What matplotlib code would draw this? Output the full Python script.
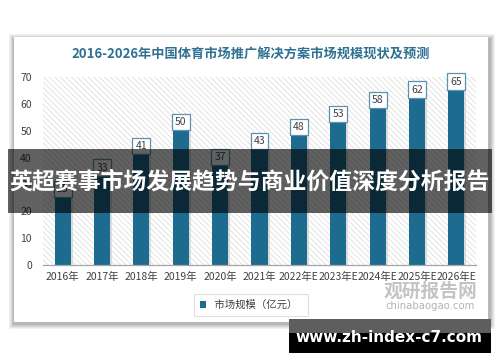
import matplotlib
matplotlib.use("Agg")
from matplotlib import pyplot as plt
from matplotlib.patches import Rectangle, Arc

plt.rcParams['font.family'] = ['Noto Sans CJK SC', 'DejaVu Sans']
plt.rcParams['hatch.linewidth'] = 0.6
plt.rcParams['hatch.color'] = '#dedede'

years = ["2016年", "2017年", "2018年", "2019年", "2020年", "2021年",
         "2022年E", "2023年E", "2024年E", "2025年E", "2026年E"]
values = [25, 33, 41, 50, 37, 43, 48, 53, 58, 62, 65]
title = "2016-2026年中国体育市场推广解决方案市场规模现状及预测"
series_name = "市场规模（亿元）"
banner = "英超赛事市场发展趋势与商业价值深度分析报告"
site = "www.zh-index-c7.com"

W, H = 500, 362
BAR = "#1d6b8f"

fig = plt.figure(figsize=(W / 100, H / 100), dpi=100)
fig.patch.set_facecolor("white")


def fx(px):
    return px / W


def fy(py):
    return 1 - py / H


def frect(x0, y0, x1, y1, **kw):
    # rectangle in pixel coords (top-left origin)
    r = Rectangle((fx(x0), fy(y1)), fx(x1) - fx(x0), fy(y0) - fy(y1),
                  transform=fig.transFigure, **kw)
    fig.add_artist(r)
    return r


# card shadow + card
for i, a in enumerate([0.05, 0.05, 0.06, 0.07, 0.08]):
    d = 5 - i
    frect(14 - d, 37 - d + 2, 488 + d + 2, 322 + d + 2, facecolor="black",
          edgecolor="none", alpha=a, zorder=0)
frect(14, 37, 488, 322, facecolor="white", edgecolor="none", zorder=0.5)

ax = fig.add_axes([fx(43), fy(265), fx(476) - fx(43), fy(77) - fy(265)])
ax.set_zorder(1)
ax.patch.set_facecolor("white")
ax.add_patch(Rectangle((0, 0), 1, 1, transform=ax.transAxes, facecolor="white",
                       edgecolor="#dedede", hatch="\\\\\\\\\\\\", lw=0, zorder=0))

x = list(range(len(years)))
# subtle bar shadow
ax.bar([i + 0.05 for i in x], values, width=0.41, color="#c9c9c9", alpha=0.6,
       zorder=1.5)
bars = ax.bar(x, values, width=0.41, color=BAR, zorder=2, label=series_name)

for i, v in zip(x, values):
    ax.text(i, v + 3.3, str(v), ha="center", va="center", fontsize=7.5,
            color="#404040", zorder=3,
            bbox=dict(boxstyle="square,pad=0.3", facecolor="white",
                      edgecolor="#5a93b0", lw=0.9))

ax.set_xlim(-0.5, len(years) - 0.5)
ax.set_ylim(0, 70)
ax.set_yticks(range(0, 71, 10))
ax.set_xticks(x)
ax.set_xticklabels(years)
ax.tick_params(axis="both", length=0, labelsize=7.5, labelcolor="#404040")
ax.tick_params(axis="y", pad=8)
ax.tick_params(axis="x", pad=5)
for s in ["top", "right", "left"]:
    ax.spines[s].set_visible(False)
ax.spines["bottom"].set_color("#a6a6a6")
ax.spines["bottom"].set_linewidth(0.9)
ax.spines["bottom"].set_zorder(3)

fig.text(fx(251), fy(54), title, ha="center", va="center", fontsize=9.5,
         fontweight="bold", color="#2f7193")

leg = ax.legend(loc="center", bbox_to_anchor=(fx(251), fy(305)),
                bbox_transform=fig.transFigure, frameon=True, fontsize=7.5,
                handlelength=0.6, handleheight=0.6, handletextpad=0.5,
                borderpad=0.55, borderaxespad=0, fancybox=False)
leg.get_frame().set_edgecolor("#d9d9d9")
leg.get_frame().set_linewidth(0.8)
for t in leg.get_texts():
    t.set_color("#404040")
    t.set_text(" " + series_name + "  ")

# watermark
fig.text(fx(430), fy(291), "观研报告网", ha="center", va="center", fontsize=13.5,
         fontweight="bold", color="#c4c4c4", zorder=2)
fig.text(fx(430), fy(306), "chinabaogao.com", ha="center", va="center",
         fontsize=7.3, color="#b3b3b3", family="DejaVu Sans", zorder=2)
wm = fig.add_axes([fx(345), fy(307), fx(380) - fx(345), fy(281) - fy(307)])
wm.set_xlim(0, 35)
wm.set_ylim(0, 26)
wm.axis("off")
wm.add_patch(Arc((17, 15), 30, 16, theta1=20, theta2=250, lw=3.5, color="#cfcfcf"))
wm.add_patch(Arc((19, 10), 26, 14, theta1=200, theta2=430, lw=3.5, color="#cfcfcf"))

# overlay banner
frect(8, 149, 492, 213, facecolor="black", edgecolor="none", alpha=0.62,
      zorder=5)
fig.text(fx(250), fy(182), banner, ha="center", va="center", fontsize=16.5,
         fontweight="bold", color="white", zorder=6)

# bottom site banner
frect(289, 319, 491, 333, facecolor="#5e5e5e", edgecolor="none", zorder=5)
frect(289, 333, 491, 353, facecolor="black", edgecolor="none", zorder=5)
fig.text(fx(389), fy(337), site, ha="center", va="center", fontsize=11,
         fontweight="bold", color="white", family="DejaVu Sans", zorder=6)

fig.savefig("out.png", dpi=100)
